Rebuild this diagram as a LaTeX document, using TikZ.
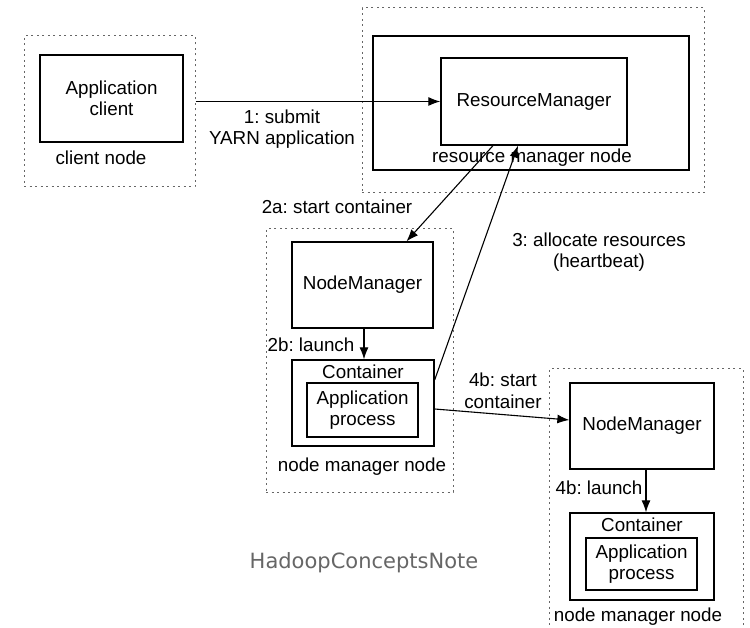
\documentclass[tikz,border=0pt]{standalone}
\usepackage{fontspec}
\setmainfont{Liberation Sans}
\newfontfamily\markfont{DejaVu Sans}
\usepackage{tikz}
\usetikzlibrary{
  arrows.meta,
  positioning,
  calc
}
\usepackage{xcolor}
\definecolor{dotGray}{rgb}{0.4,0.4,0.4}
\definecolor{markGray}{rgb}{0.4,0.4,0.4}
\frenchspacing
\tikzset{
  host box/.style={
    draw=dotGray,
    line width=1pt,
    dash pattern=on 2pt off 3.5pt,
    inner sep=0pt
  },
  daemon box/.style={
    draw,
    line width=1.3pt,
    inner sep=0pt,
    align=center
  },
  msg/.style={
    align=center,
    inner sep=0pt
  }
}

\begin{document}
\begin{tikzpicture}[
      x=1pt, y=-1pt,
      >={Latex[length=12pt,width=9pt]},
      every node/.style={
        font=\fontsize{18.8}{21.5}\selectfont
      },
      flow/.style={->, line width=1.1pt}
      ]
      \useasboundingbox (0,0) rectangle (750,628);

      % client node
      \node[host box, minimum width=171pt, minimum height=151pt] (clientHost) at (109.5,111.5) {};
      \node[daemon box, minimum width=143pt, minimum height=87pt] (appClient) at (111.5,98.5) {Application\\client};
      \node[msg] (clientLbl) at (101,158) {client node};

      % resource manager node
      \node[host box, minimum width=342pt, minimum height=185pt] (rmHost) at (533,100.5) {};
      \node[daemon box, minimum width=316pt, minimum height=134pt] (rmFrame) at (531,103) {};
      \node[daemon box, minimum width=186pt, minimum height=87pt] (rm) at (534,101.5) {ResourceManager};
      \node[msg] (rmLbl) at (532,158) {resource manager node};

      % node manager nodes
      \node[host box, minimum width=187pt, minimum height=263pt] (nmHostA) at (359.5,360.5) {};
      \node[daemon box, minimum width=141pt, minimum height=86pt] (nmA) at (362.5,285) {NodeManager};
      \node[daemon box, minimum width=142pt, minimum height=86pt,
        label={[msg,anchor=north,yshift=-5pt]north:Container}] (conA) at (363,403) {};
      \node[daemon box, minimum width=111pt, minimum height=54pt] (appA) at (362.5,410) {Application\\process};
      \node[msg] (nmLblA) at (362,467) {node manager node};

      \node[host box, minimum width=194pt, minimum height=271pt] (nmHostB) at (646,504.5) {};
      \node[daemon box, minimum width=144pt, minimum height=86pt] (nmB) at (642,426) {NodeManager};
      \node[daemon box, minimum width=144pt, minimum height=87pt,
        label={[msg,anchor=north,yshift=-5pt]north:Container}] (conB) at (642,556.5) {};
      \node[daemon box, minimum width=111pt, minimum height=52pt] (appB) at (641.5,564) {Application\\process};
      \node[msg] (nmLblB) at (638,617) {node manager node};

      % messages
      \node[msg] (submitLbl) at (282,129) {1: submit\\YARN application};
      \node[msg] (startLblA) at (337,207) {2a: start container};
      \node[msg] (allocLbl) at (599,252) {3: allocate resources\\(heartbeat)};
      \node[msg] (launchLblA) at (311,345) {2b: launch};
      \node[msg] (startLblB) at (503,391) {4b: start\\container};
      \node[msg] (launchLblB) at (599,488) {4b: launch};

      \draw[flow] (rm.west -| clientHost.east) -- (rm.west);
      \draw[flow] ([xshift=-41pt]rm.south) -- ([xshift=44pt]nmA.north);
      \draw[flow] ([yshift=23pt]conA.east) -- ([xshift=-16pt]rm.south);
      \draw[flow] ([xshift=1.5pt]nmA.south) -- ([xshift=1.5pt]nmA.south |- conA.north);
      \draw[flow] ([yshift=-6pt]conA.east) -- ([yshift=6pt]nmB.west);
      \draw[flow] ([xshift=4pt]nmB.south) -- ([xshift=4pt]nmB.south |- conB.north);

      \node[text=markGray, font=\markfont\fontsize{21}{24}\selectfont] (mark) at (364,563) {HadoopConceptsNote};
    \end{tikzpicture}
\end{document}
